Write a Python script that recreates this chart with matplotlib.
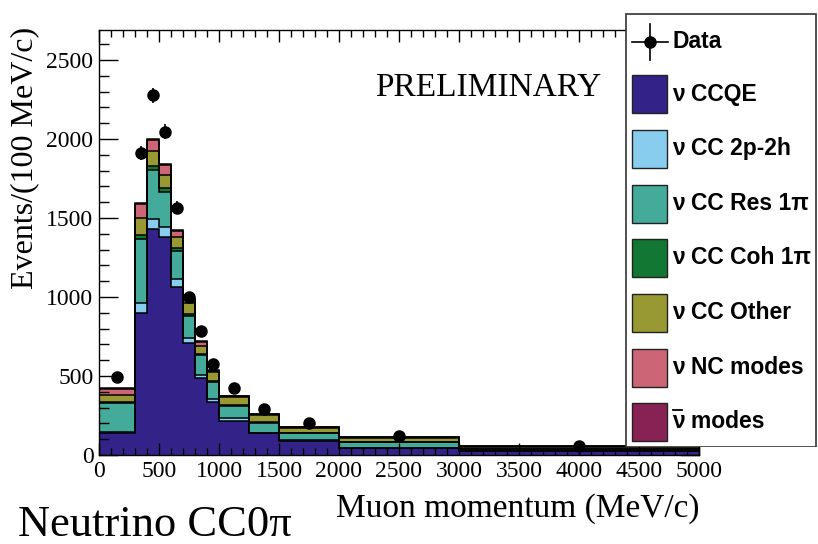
import numpy as np
import matplotlib
matplotlib.use("Agg")
import matplotlib.pyplot as plt
from matplotlib.patches import Rectangle
from matplotlib.ticker import MultipleLocator

# ---- data (events per 100 MeV/c) ----
bin_edges = [0, 300, 400, 500, 600, 700, 800, 900, 1000, 1250, 1500, 2000, 3000, 5000]
ccqe  = [137, 901, 1428, 1382, 1066, 711, 485, 338, 217, 137, 89, 44, 25]
cc2p2h = [10, 63, 66, 59, 46, 27, 21, 14, 15, 4, 3, 2, 1]
ccres = [179, 403, 310, 226, 181, 142, 127, 112, 80, 64, 45, 36, 10]
cccoh = [10, 26, 27, 21, 15, 10, 4, 6, 4, 2, 1, 1, 0.5]
ccother = [43, 109, 95, 84, 70, 70, 55, 53, 53, 46, 35, 27, 17]
ncmodes = [36, 85, 68, 64, 40, 25, 25, 11, 4, 5, 6, 2, 1]
antinu = [6, 8, 8, 7, 5, 4, 3, 3, 2, 1, 1, 1, 0.5]
data_vals = [494, 1911, 2277, 2047, 1566, 999, 785, 573, 421, 288, 204, 120, 57]

labels = ["ν CCQE", "ν CC 2p-2h", "ν CC Res 1π", "ν CC Coh 1π", "ν CC Other",
          "ν NC modes", "ν modes"]
colors = ["#332288", "#88CCEE", "#44AA99", "#117733", "#999933", "#CC6677", "#882255"]

W, H = 818, 544
fig = plt.figure(figsize=(W / 100, H / 100), dpi=100)
ax = fig.add_axes([99 / W, (H - 455) / H, 600 / W, 425 / H])

edges = np.array(bin_edges, dtype=float)
comps = [ccqe, cc2p2h, ccres, cccoh, ccother, ncmodes, antinu]
base = np.zeros(len(ccqe))
for vals, col in zip(comps, colors):
    top = base + np.array(vals, dtype=float)
    ax.stairs(top, edges, baseline=base, fill=True, color=col, zorder=1)
    base = top
base = np.zeros(len(ccqe))
for vals in comps:
    top = base + np.array(vals, dtype=float)
    ax.stairs(top, edges, baseline=None, color="black", lw=1.1, zorder=2)
    base = top

centers = 0.5 * (edges[:-1] + edges[1:])
widths = np.diff(edges) / 100.0
dv = np.array(data_vals, dtype=float)
errs = np.sqrt(dv * widths) / widths
ax.errorbar(centers, dv, yerr=errs, fmt="o", color="black", ms=8, elinewidth=1.2,
            capsize=0, zorder=4)

ax.set_xlim(0, 5000)
ax.set_ylim(0, 2690)
ax.xaxis.set_major_locator(MultipleLocator(500))
ax.xaxis.set_minor_locator(MultipleLocator(100))
ax.yaxis.set_major_locator(MultipleLocator(500))
ax.yaxis.set_minor_locator(MultipleLocator(100))
ax.set_axisbelow(False)
ax.tick_params(axis="x", which="major", direction="in", length=8.5, width=1, top=True, pad=4)
ax.tick_params(axis="x", which="minor", direction="in", length=5, width=1, top=True)
ax.tick_params(axis="y", which="major", direction="in", length=13.5, width=1, right=True, pad=4)
ax.tick_params(axis="y", which="minor", direction="in", length=7, width=1, right=True)
for lab in ax.get_xticklabels() + ax.get_yticklabels():
    lab.set_fontfamily("Liberation Serif")
    lab.set_fontsize(17)
for sp in ax.spines.values():
    sp.set_linewidth(1.0)
    sp.set_zorder(5)

# axis titles and texts
fig.text(25 / W, 1 - 27 / H, "Events/(100 MeV/c)", rotation=90, ha="center", va="top",
         family="Liberation Serif", fontsize=23)
fig.text(700 / W, 1 - 509 / H, "Muon momentum (MeV/c)", ha="right", va="center",
         family="Liberation Serif", fontsize=24)
fig.text(488 / W, 1 - 88 / H, "PRELIMINARY", ha="center", va="center",
         family="Liberation Serif", fontsize=24)
fig.text(18 / W, 1 - 536 / H, "Neutrino CC0π", ha="left", va="baseline",
         family="Liberation Serif", fontsize=32)

# legend drawn in pixel coordinates
lax = fig.add_axes([625 / W, (H - 447) / H, 192 / W, 434 / H])
lax.set_xlim(625, 817)
lax.set_ylim(447, 13)
lax.axis("off")
lax.add_patch(Rectangle((625.5, 13.5), 190.5, 433, fill=True, facecolor="white",
                        edgecolor="#333333", lw=1.2))
# data entry
lax.plot([632, 668], [42, 42], color="black", lw=1.2)
lax.plot([650, 650], [24, 60], color="black", lw=1.2)
lax.plot([650], [42], "o", color="black", ms=8)
lax.text(673, 42, "Data", ha="left", va="center", family="Liberation Sans",
         fontweight="bold", fontsize=16.5)
ys = [94, 148.5, 203.5, 258, 312.5, 367.5, 422]
for i, (yc, lab, col) in enumerate(zip(ys, labels, colors)):
    lax.add_patch(Rectangle((632, yc - 19), 35, 38, facecolor=col, edgecolor="#222222", lw=1.0))
    lax.text(672, yc, lab, ha="left", va="center", family="Liberation Sans",
             fontweight="bold", fontsize=16.5)
    if i == len(labels) - 1:
        # overline on the antineutrino symbol
        lax.plot([672.5, 681.5], [yc - 12, yc - 12], color="black", lw=1.3)

fig.savefig("out.png", dpi=100)
